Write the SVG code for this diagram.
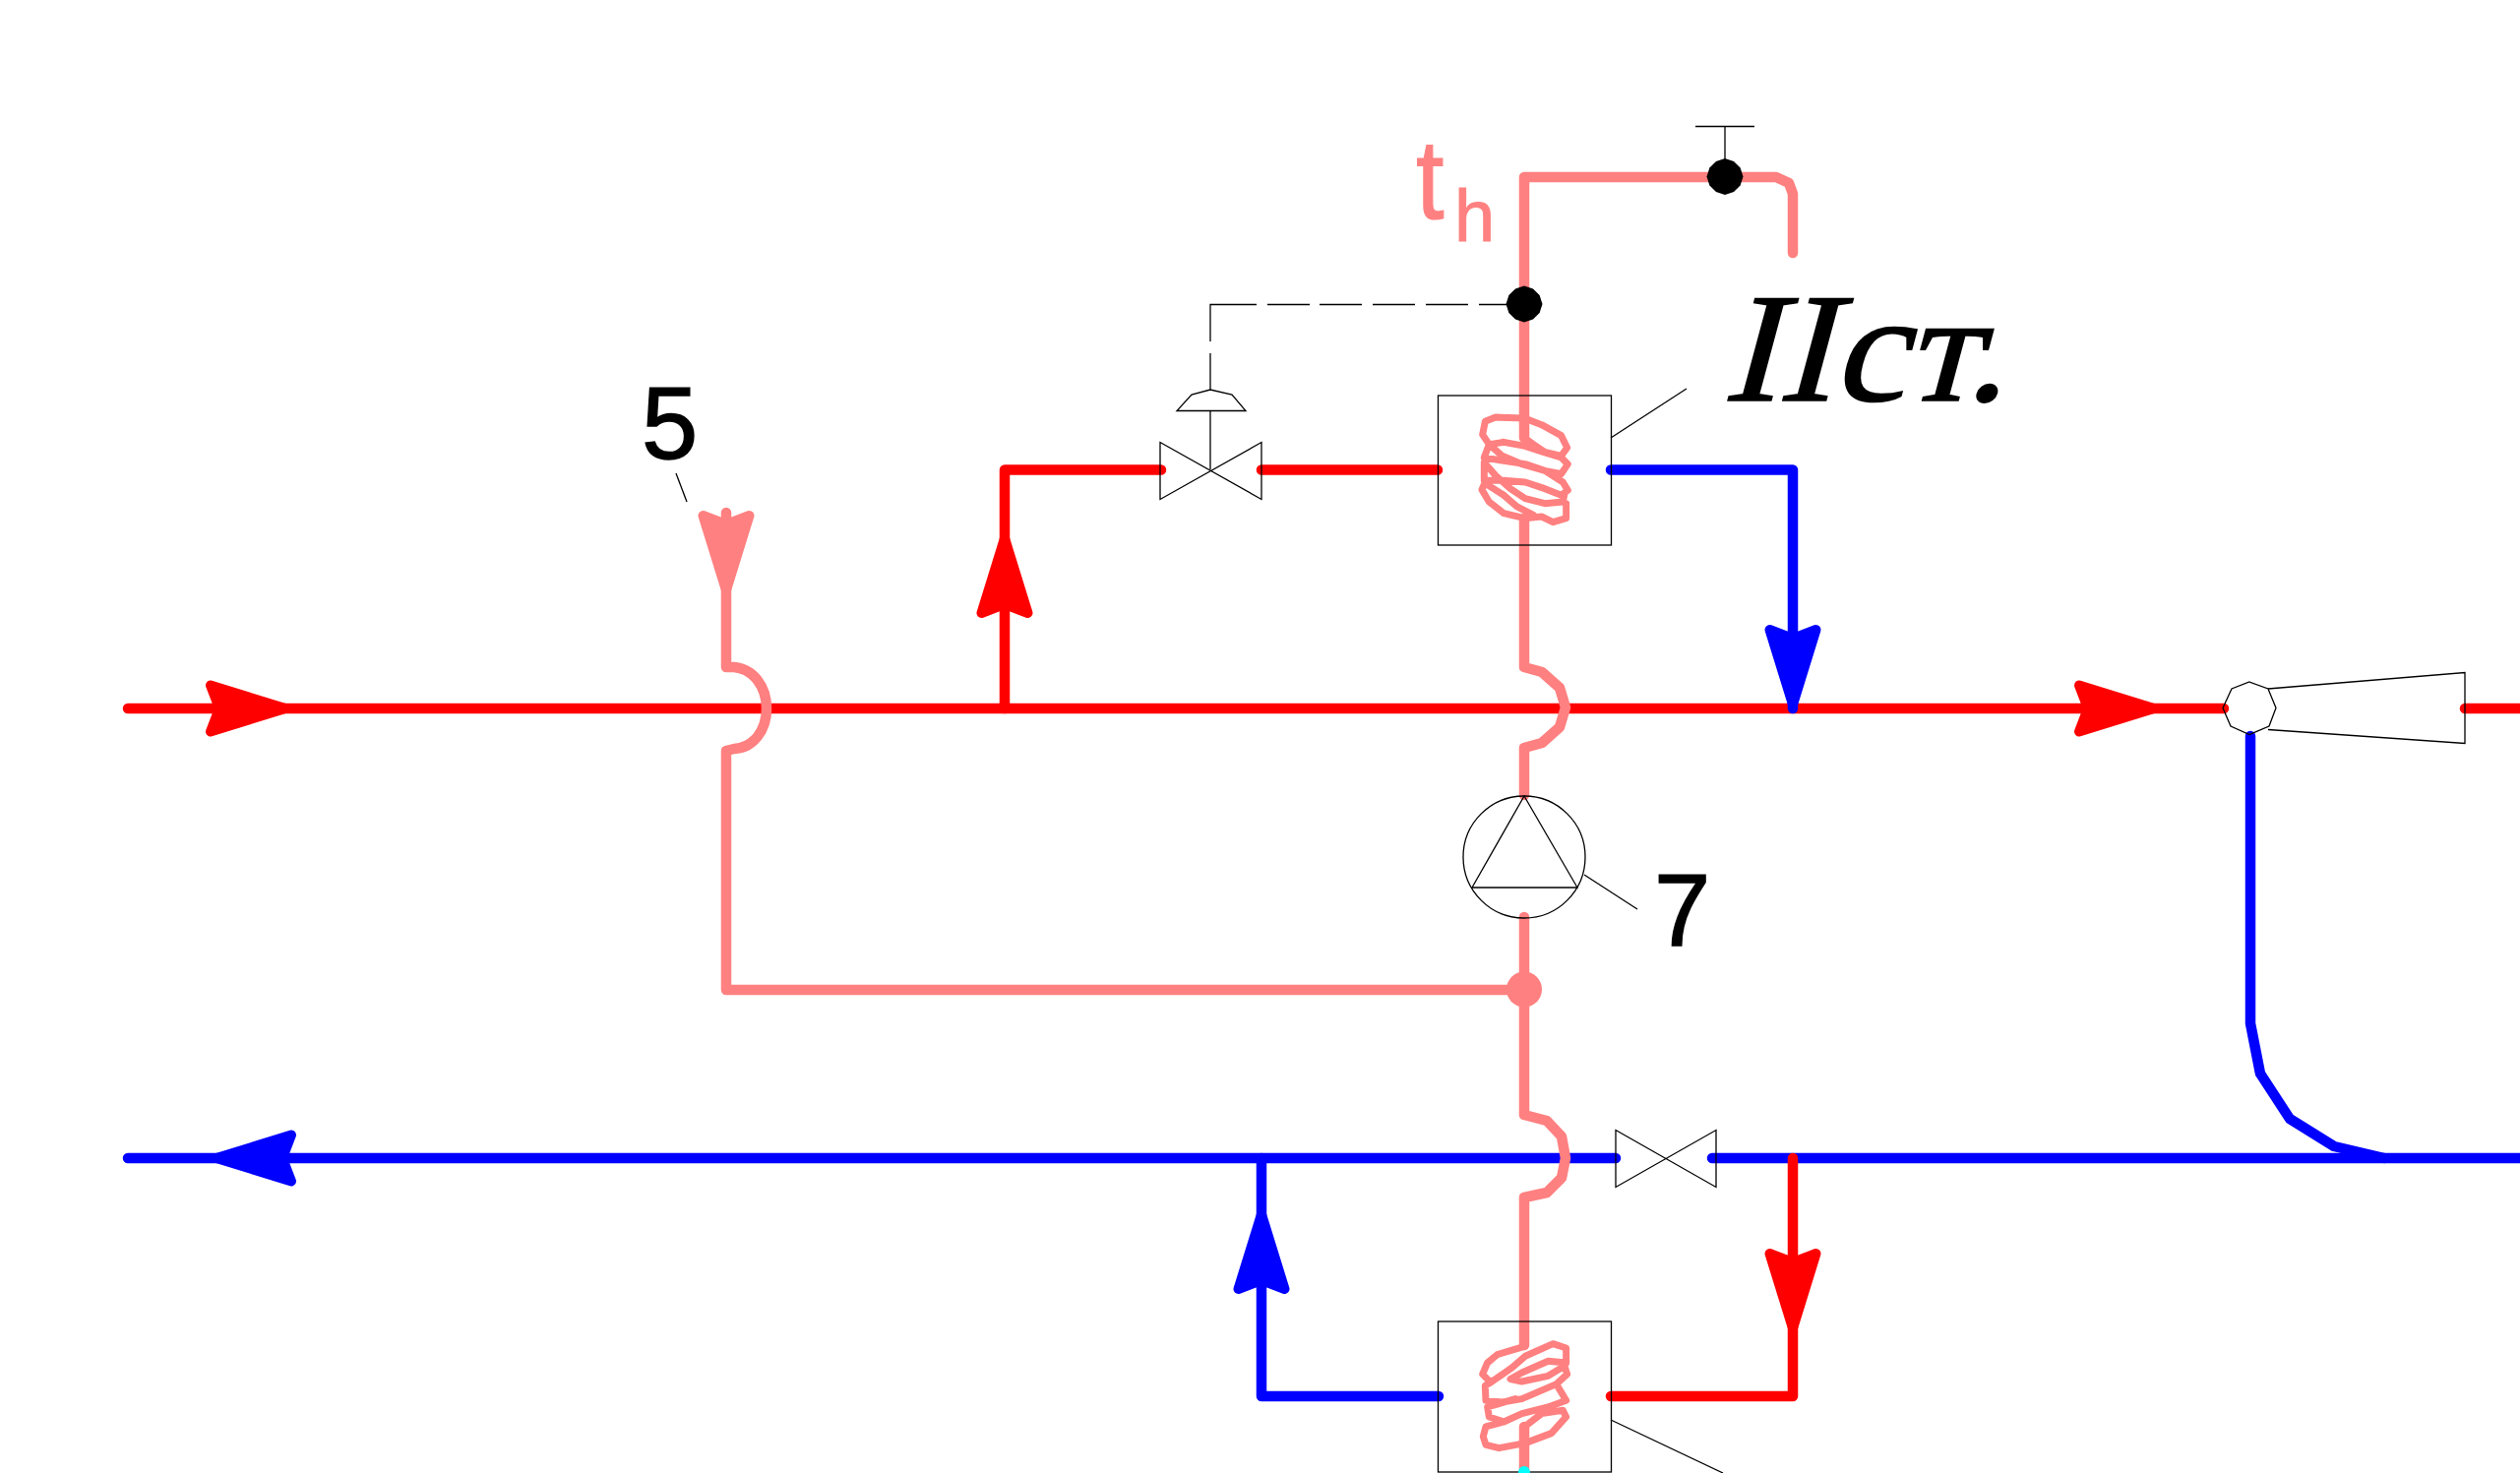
<svg xmlns="http://www.w3.org/2000/svg" width="2561" height="1497" viewBox="0 0 2561 1497">
<style>
.pipe{fill:none;stroke-width:10.5;stroke-linecap:round;stroke-linejoin:round}
.red{stroke:#ff0000}.blue{stroke:#0000ff}.pink{stroke:#ff8080}
.ah{stroke-width:10;stroke-linejoin:round}
.ared{fill:#ff0000;stroke:#ff0000}.ablue{fill:#0000ff;stroke:#0000ff}.apink{fill:#ff8080;stroke:#ff8080}
.thin{fill:none;stroke:#000;stroke-width:1.3}
.coil{fill:none;stroke:#ff8080;stroke-width:21;stroke-linejoin:round;stroke-linecap:round}
.num{font-family:"Liberation Sans",Arial,sans-serif;font-size:103px;fill:#000;stroke:#000;stroke-width:1.4}
.th{font-family:"Liberation Sans",Arial,sans-serif;fill:#ff8080;stroke:#ff8080;stroke-width:1}
.st{font-family:"Liberation Serif","Times New Roman",serif;font-size:158px;fill:#000;stroke:#000;stroke-width:1.5}
</style>
<defs>
<polygon id="arrow" points="-68,-23.5 8,0 -68,23.5 -59,0"/>
<polygon id="dot" points="0,-18.5 9,-15.6 15.6,-9 18.5,0 15.6,9 9,15.6 0,18.5 -9,15.6 -15.6,9 -18.5,0 -15.6,-9 -9,-15.6"/>
</defs>
<rect width="2561" height="1497" fill="#fff"/>
<g id="connectors">
<path class="pipe red" d="M130 720H2260M2505 720H2566"/>
<path class="pipe blue" d="M130 1177H1642M1740 1177H2566"/>
<path class="pipe blue" d="M2287 748V1040L2297 1091L2327 1137L2372 1165L2423 1177"/>
<path class="pipe red" d="M1021 720V477.5H1180M1282 477.5H1461"/>
<path class="pipe blue" d="M1637 477.5H1822V720"/>
<path class="pipe blue" d="M1282 1177V1419H1462"/>
<path class="pipe red" d="M1822 1177V1419H1637"/>
<use href="#arrow" class="ah ared" transform="translate(282 720)"/>
<use href="#arrow" class="ah ared" transform="translate(2181 720)"/>
<use href="#arrow" class="ah ablue" transform="translate(228 1177) rotate(180)"/>
<use href="#arrow" class="ah ared" transform="translate(1021 555) rotate(-90)"/>
<use href="#arrow" class="ah ablue" transform="translate(1822 708) rotate(90)"/>
<use href="#arrow" class="ah ablue" transform="translate(1282 1242) rotate(-90)"/>
<use href="#arrow" class="ah ared" transform="translate(1822 1342) rotate(90)"/>
<path class="pipe pink" d="M738 521V678H746C766 680 779 698 779 720C779 742 766 760 746 761L738 763V1006H1549"/>
<path class="pipe pink" d="M1822 257V197L1818 186L1805 180H1549V445"/>
<path class="pipe pink" d="M1549 527V678L1567 683L1585 699L1591 719L1585 739L1567 755L1549 760V808"/>
<path class="pipe pink" d="M1549 932V1133L1572 1139L1587 1155L1591 1177L1587 1197L1572 1212L1549 1217V1367"/>
<path class="pipe pink" d="M1549 1450V1497"/>
<use href="#arrow" class="ah apink" transform="translate(738 592) rotate(90)"/>
<circle cx="1549" cy="1005.5" r="18" fill="#ff8080"/>
</g>
<g id="heater-upper">
<rect class="thin" x="1461.5" y="402" width="176" height="152"/>
<path class="thin" d="M1637 445L1714 395"/>
<g transform="translate(1470 400) scale(.3333)">
<path class="coil" d="M238 135L265 155L300 178L350 190L368 165L350 128L290 95L238 75L150 72L118 85L110 125L130 155L175 148L240 160L300 180L350 195L370 215L350 245L300 235L240 215L175 205L115 195L130 155L170 190L230 215L300 235L355 270L370 295L350 310L300 290L240 270L175 265L115 265L115 210L150 250L195 290L240 320L300 335L355 330L360 305M120 265L108 293L130 330L175 365L238 380L290 375L325 392L365 380L365 335M120 275L175 310L215 345L265 370"/>
</g>
</g>
<g id="heater-lower">
<rect class="thin" x="1461.5" y="1343" width="176" height="153"/>
<path class="thin" d="M1637 1443L1751 1497"/>
<g transform="translate(1400 1100) scale(.3333)">
<path class="coil" d="M448 805L365 830L335 855L320 890L345 915L410 870L450 835L535 797L575 810L575 855L520 850L440 885L405 905L440 912L520 895L570 865L578 890L545 920L440 965L380 975L330 970L328 925L345 915M545 920L575 970L520 990L440 1010L385 1035L340 1020L335 990L420 965M385 1035L330 1050L322 1080L330 1105L370 1115L450 1100L530 1070L575 1020L565 1000L500 1010L448 1050"/>
</g>
<circle cx="1549" cy="1496" r="6" fill="#00ffff"/>
</g>
<g id="valve-control">
<path class="thin" d="M1179 449.5L1282 507.5V449.5L1179 507.5Z"/>
<path class="thin" d="M1230 477V417.5M1196 417.5H1266L1252 401L1230 396L1211 401ZM1230 396V359M1230 347V309.5H1277M1288 309.5H1331M1341 309.5H1384M1395 309.5H1438M1449 309.5H1492M1503 309.5H1532"/>
</g>
<g id="valve-return">
<path class="thin" d="M1642 1148.5L1744 1206.5V1148.5L1642 1206.5Z"/>
</g>
<g id="pump">
<circle class="thin" cx="1549" cy="871" r="62"/>
<path class="thin" d="M1549 809L1603 902H1496Z"/>
<path class="thin" d="M1610 889L1664 924"/>
</g>
<g id="ejector">
<path class="thin" d="M2305 700L2505 683.5V755.5L2305 741.5"/>
<polygon class="thin" points="2286,693 2305,700 2313,719.5 2306,738 2286,746.5 2267,738 2259,719.5 2268,700"/>
</g>
<g id="sensor-top">
<use href="#dot" transform="translate(1753 179.5)"/>
<path class="thin" d="M1753 179V128.5M1723 128.5H1783"/>
</g>
<g id="sensor-control">
<use href="#dot" transform="translate(1549 309)"/>
</g>
<g id="labels">
<text class="th" transform="translate(1439 222) scale(1 1.12)" font-size="103">t</text>
<text class="th" x="1478" y="245" font-size="74">h</text>
<text class="st" transform="translate(1750 407) skewX(-15) scale(1.06 1)">IIст.</text>
<text class="num" x="652" y="466">5</text>
<path class="thin" d="M687 481L698 510"/>
<text class="num" x="1681" y="961">7</text>
</g>
</svg>
